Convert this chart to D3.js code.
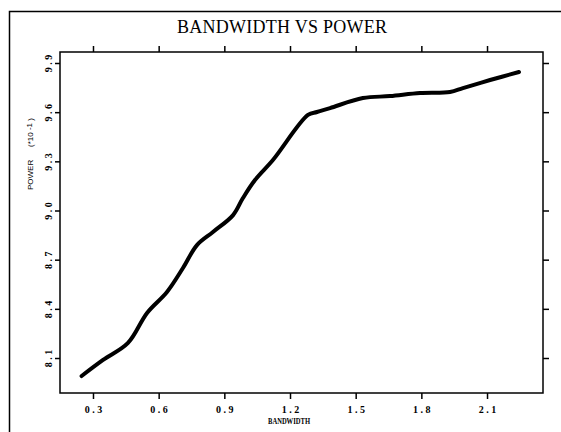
<!DOCTYPE html>
<html><head><meta charset="utf-8">
<script src="https://cdn.jsdelivr.net/npm/d3@7"></script>
<style>body{margin:0;background:#fff}</style>
</head><body>
<script>
const bandwidth = [0.248,0.346,0.460,0.547,0.638,0.711,0.775,0.848,0.940,0.985,1.040,1.122,1.282,1.323,1.383,1.533,1.657,1.794,1.931,1.990,2.114,2.246];
const power = [7.99,8.088,8.192,8.375,8.503,8.649,8.789,8.869,8.972,9.076,9.186,9.308,9.583,9.601,9.625,9.686,9.698,9.717,9.723,9.747,9.796,9.845];
const xTicks = [0.3,0.6,0.9,1.2,1.5,1.8,2.1];
const yTicks = [8.1,8.4,8.7,9.0,9.3,9.6,9.9];
const title = "BANDWIDTH VS POWER";
const xLabel = "BANDWIDTH";

const W=561,H=432;
const L=60,R=543,T=52,B=393;
const svg=d3.select("body").append("svg").attr("width",W).attr("height",H);

const x=d3.scaleLinear().domain([0.1493,2.3557]).range([L,R]);
const y=d3.scaleLinear().domain([7.8865,9.9671]).range([B,T]);

const serif="Liberation Serif, Times New Roman, serif";

// outer frame
svg.append("path").attr("d",`M9.5,432V11.5H561`).attr("fill","none").attr("stroke","#000").attr("stroke-width",1.5);

svg.append("text").attr("x",177).attr("y",33)
  .attr("textLength",210).attr("lengthAdjust","spacing")
  .attr("font-family",serif).attr("font-size",18).text(title);

// axes
svg.append("g").attr("transform",`translate(0,${B})`)
  .call(d3.axisBottom(x).tickValues(xTicks).tickSize(6).tickPadding(7).tickFormat(d3.format(".1f")))
  .call(g=>{g.select(".domain").remove();g.selectAll("text").attr("font-family",serif).attr("font-size",10).attr("font-weight","bold").attr("letter-spacing",2.5).attr("dx",1.2);g.selectAll("line").attr("stroke-width",1.5);});
svg.append("g").attr("transform",`translate(0,${T})`)
  .call(d3.axisTop(x).tickValues(xTicks).tickSize(6).tickFormat(""))
  .call(g=>{g.select(".domain").remove();g.selectAll("line").attr("stroke-width",1.5);});
svg.append("g").attr("transform",`translate(${L},0)`)
  .call(d3.axisLeft(y).tickValues(yTicks).tickSize(5).tickFormat(d3.format(".1f")))
  .call(g=>{g.select(".domain").remove();g.selectAll("line").attr("stroke-width",1.5);
    g.selectAll("text").attr("font-family",serif).attr("font-size",10).attr("font-weight","bold").attr("letter-spacing",2.5)
     .attr("text-anchor","middle").attr("x",1.2).attr("dy",0).attr("transform","translate(-8,0) rotate(-90)");});
svg.append("g").attr("transform",`translate(${R},0)`)
  .call(d3.axisRight(y).tickValues(yTicks).tickSize(6).tickFormat(""))
  .call(g=>{g.select(".domain").remove();g.selectAll("line").attr("stroke-width",1.5);});

svg.append("rect").attr("x",L).attr("y",T).attr("width",R-L).attr("height",B-T)
  .attr("fill","none").attr("stroke","#000").attr("stroke-width",1.5);

svg.append("text").attr("x",268).attr("y",424).attr("textLength",42).attr("lengthAdjust","spacingAndGlyphs")
  .attr("font-family",serif).attr("font-size",8).attr("font-weight","bold").text(xLabel);

const yl=svg.append("text").attr("transform","translate(33,190) rotate(-90)")
  .attr("font-family","Liberation Sans, Arial, sans-serif").attr("font-size",8).attr("fill","#000");
yl.append("tspan").text("POWER");
yl.append("tspan").attr("x",43).text("(*10 ");
yl.append("tspan").attr("dy",-1).text("-1");
yl.append("tspan").attr("dy",1).text(" )");

const line=d3.line().x((d,i)=>x(bandwidth[i])).y(d=>y(d)).curve(d3.curveCatmullRom);
svg.append("path").datum(power).attr("d",line).attr("fill","none").attr("stroke","#000")
  .attr("stroke-width",4).attr("stroke-linecap","round").attr("stroke-linejoin","round");
</script>
</body></html>
